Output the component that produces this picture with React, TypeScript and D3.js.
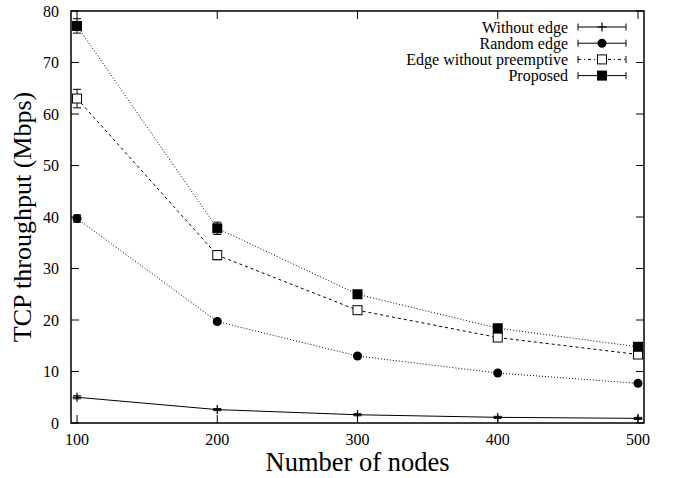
import React from 'react';
import * as d3 from 'd3';

const nodes = [100, 200, 300, 400, 500];
const withoutEdge = [5.0, 2.6, 1.6, 1.1, 0.9];
const withoutEdgeErr = [0.3, 0.2, 0.2, 0.2, 0.2];
const randomEdge = [39.7, 19.7, 13.0, 9.7, 7.7];
const randomEdgeErr = [0.7, 0.3, 0.3, 0.3, 0.3];
const edgeNoPreempt = [63.0, 32.6, 21.9, 16.6, 13.3];
const edgeNoPreemptErr = [1.8, 0.9, 0.6, 0.6, 0.6];
const proposed = [77.1, 37.8, 25.0, 18.4, 14.8];
const proposedErr = [1.4, 1.2, 0.5, 0.5, 0.5];

const seriesNames = ['Without edge', 'Random edge', 'Edge without preemptive', 'Proposed'];
const yTicks = [0, 10, 20, 30, 40, 50, 60, 70, 80];

const width = 675,
  height = 478,
  margin = { left: 71, top: 11, right: 31, bottom: 55 };

const font = '"Liberation Serif", "Times New Roman", serif';

type Series = { name: string; values: number[]; errs: number[]; marker: string; dash: string };

const series: Series[] = [
  { name: seriesNames[0], values: withoutEdge, errs: withoutEdgeErr, marker: 'plus', dash: 'none' },
  { name: seriesNames[1], values: randomEdge, errs: randomEdgeErr, marker: 'circle', dash: '1,2' },
  { name: seriesNames[2], values: edgeNoPreempt, errs: edgeNoPreemptErr, marker: 'openSquare', dash: '3,3' },
  { name: seriesNames[3], values: proposed, errs: proposedErr, marker: 'square', dash: '1,2' },
];

const Marker = ({ kind, cx, cy }: { kind: string; cx: number; cy: number }) => {
  if (kind === 'plus')
    return (
      <g stroke="black" strokeWidth={1.2}>
        <line x1={cx - 4.5} x2={cx + 4.5} y1={cy} y2={cy} />
        <line x1={cx} x2={cx} y1={cy - 4.5} y2={cy + 4.5} />
      </g>
    );
  if (kind === 'circle') return <circle cx={cx} cy={cy} r={4.5} fill="black" />;
  if (kind === 'openSquare')
    return <rect x={cx - 4.5} y={cy - 4.5} width={9} height={9} fill="white" stroke="black" strokeWidth={1} />;
  return <rect x={cx - 5} y={cy - 5} width={10} height={10} fill="black" />;
};

const ErrBar = ({ x, y1, y2 }: { x: number; y1: number; y2: number }) => (
  <g stroke="black" strokeWidth={1}>
    <line x1={x} x2={x} y1={y1} y2={y2} />
    <line x1={x - 4} x2={x + 4} y1={y1} y2={y1} />
    <line x1={x - 4} x2={x + 4} y1={y2} y2={y2} />
  </g>
);

export default function App() {
  const x = d3.scaleLinear()
    .domain([95.7, 504.3])
    .range([margin.left, width - margin.right]);
  const y = d3.scaleLinear()
    .domain([0, 80])
    .range([height - margin.bottom, margin.top]);

  const line = d3.line<number>()
    .x((_, i) => x(nodes[i]))
    .y(d => y(d));

  const x0 = margin.left, x1 = width - margin.right;
  const y0 = height - margin.bottom, y1 = margin.top;

  const legendRight = 568, sampleX1 = 578, sampleX2 = 626;

  return (
    <svg width={width} height={height} style={{ position: 'absolute', left: 0, top: 0, background: 'white' }}
      fontFamily={font}>
      {/* ticks */}
      <g stroke="black" strokeWidth={1}>
        {yTicks.map(t => (
          <g key={'y' + t}>
            <line x1={x0} x2={x0 + 8} y1={y(t)} y2={y(t)} />
            <line x1={x1} x2={x1 - 8} y1={y(t)} y2={y(t)} />
          </g>
        ))}
        {nodes.map(t => (
          <g key={'x' + t}>
            <line x1={x(t)} x2={x(t)} y1={y0} y2={y0 - 8} />
            <line x1={x(t)} x2={x(t)} y1={y1} y2={y1 + 8} />
          </g>
        ))}
      </g>
      <g fontSize={16} fill="black">
        {yTicks.map(t => (
          <text key={'yl' + t} x={x0 - 12} y={y(t)} dy="0.35em" textAnchor="end">{t}</text>
        ))}
        {nodes.map(t => (
          <text key={'xl' + t} x={x(t)} y={y0 + 22} textAnchor="middle">{t}</text>
        ))}
      </g>

      {/* series */}
      {series.map(s => (
        <g key={s.name}>
          <path d={line(s.values) || ''} fill="none" stroke="black" strokeWidth={1}
            strokeDasharray={s.dash === 'none' ? undefined : s.dash} />
          {s.values.map((v, i) => (
            <ErrBar key={i} x={x(nodes[i])} y1={y(v - s.errs[i])} y2={y(v + s.errs[i])} />
          ))}
          {s.values.map((v, i) => (
            <Marker key={'m' + i} kind={s.marker} cx={x(nodes[i])} cy={y(v)} />
          ))}
        </g>
      ))}

      {/* legend */}
      {series.map((s, i) => {
        const ly = 27 + i * 16.2;
        const mid = (sampleX1 + sampleX2) / 2;
        return (
          <g key={'lg' + s.name}>
            <text x={legendRight} y={ly} dy="0.35em" textAnchor="end" fontSize={16}>{s.name}</text>
            <line x1={sampleX1} x2={sampleX2} y1={ly} y2={ly} stroke="black" strokeWidth={1}
              strokeDasharray={s.dash === 'none' ? undefined : (s.marker === 'openSquare' ? '3,3,1,3' : undefined)} />
            <line x1={sampleX1} x2={sampleX1} y1={ly - 3.5} y2={ly + 3.5} stroke="black" />
            <line x1={sampleX2} x2={sampleX2} y1={ly - 3.5} y2={ly + 3.5} stroke="black" />
            <Marker kind={s.marker} cx={mid} cy={ly} />
          </g>
        );
      })}

      {/* frame */}
      <rect x={x0} y={y1} width={x1 - x0} height={y0 - y1} fill="none" stroke="black" strokeWidth={1.5} />

      {/* axis titles */}
      <text x={(x0 + x1) / 2} y={471} textAnchor="middle" fontSize={26.5}>Number of nodes</text>
      <text transform={`translate(31, ${(y0 + y1) / 2}) rotate(-90)`} textAnchor="middle" fontSize={26}>
        TCP throughput (Mbps)
      </text>
    </svg>
  );
}
